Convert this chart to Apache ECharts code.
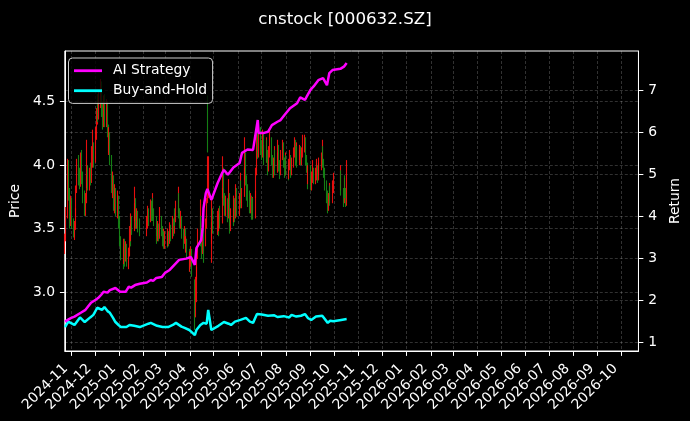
<!DOCTYPE html>
<html>
<head>
<meta charset="utf-8">
<script src="https://cdn.jsdelivr.net/npm/echarts@6/dist/echarts.min.js"></script>
<style>
html,body{margin:0;padding:0;background:#000;}
#main{width:690px;height:421px;}
</style>
</head>
<body>
<div id="main"></div>
<script>
// ---------- DATA ----------
const titleText = 'cnstock [000632.SZ]';
const firstTradingDay = '2024-10-24';
const lastTradingDay = '2025-10-17';
const holidays = ['2025-01-01','2025-01-28','2025-01-29','2025-01-30','2025-01-31','2025-02-03','2025-02-04',
  '2025-04-04','2025-05-01','2025-05-02','2025-05-05','2025-06-02',
  '2025-10-01','2025-10-02','2025-10-03','2025-10-06','2025-10-07','2025-10-08'];

// daily candles [open, close, low, high], one per trading day
const candles = [
  // 2024-10
  [3.33,3.42,3.30,3.46],[3.43,3.63,3.40,3.67],[3.62,3.95,3.58,4.05],[3.97,3.78,3.72,4.04],[3.76,3.58,3.50,3.82],[3.57,3.70,3.52,3.76],
  // 2024-11
  [3.70,3.55,3.50,3.74],[3.54,3.48,3.43,3.58],[3.47,3.52,3.41,3.56],[3.52,3.62,3.49,3.66],[3.62,3.80,3.60,3.84],[3.82,3.95,3.78,4.05],
  [3.96,3.90,3.84,4.08],[3.90,3.86,3.81,3.98],[3.86,3.98,3.83,4.10],[4.00,3.88,3.85,4.12],[3.88,3.75,3.70,3.95],
  [3.74,3.65,3.60,3.80],[3.64,3.72,3.60,3.78],[3.72,3.86,3.70,3.92],[3.87,3.95,3.82,4.20],[3.96,3.84,3.80,4.00],
  [3.83,3.92,3.80,3.98],[3.92,3.88,3.84,4.02],[3.88,4.02,3.86,4.15],[4.03,4.10,3.98,4.28],[4.10,4.05,3.98,4.18],
  // 2024-12
  [4.06,4.25,4.02,4.30],[4.25,4.38,4.20,4.45],[4.38,4.45,4.32,4.52],[4.46,4.40,4.34,4.56],[4.40,4.52,4.36,4.58],
  [4.52,4.60,4.45,4.68],[4.62,4.42,4.38,4.66],[4.42,4.35,4.28,4.50],[4.36,4.48,4.30,4.55],[4.50,4.38,4.30,4.56],
  [4.37,4.46,4.30,4.52],[4.45,4.28,4.22,4.50],[4.27,4.18,4.10,4.32],[4.18,4.22,4.08,4.30],[4.22,4.05,4.00,4.26],
  [4.04,3.82,3.78,4.08],[3.82,3.88,3.74,3.95],[3.88,3.70,3.64,3.92],[3.70,3.78,3.62,3.85],[3.78,3.68,3.60,3.82],
  [3.67,3.72,3.58,3.80],[3.72,3.55,3.50,3.76],
  // 2025-01
  [3.55,3.40,3.36,3.60],[3.40,3.30,3.25,3.44],[3.30,3.25,3.18,3.36],[3.25,3.38,3.22,3.42],[3.38,3.28,3.20,3.42],
  [3.28,3.35,3.24,3.40],[3.35,3.24,3.20,3.38],[3.23,3.30,3.18,3.35],[3.30,3.48,3.28,3.52],[3.48,3.42,3.36,3.54],
  [3.42,3.55,3.40,3.62],[3.55,3.50,3.45,3.60],[3.50,3.62,3.48,3.70],[3.62,3.70,3.56,3.83],[3.70,3.55,3.50,3.74],
  [3.55,3.60,3.50,3.66],[3.60,3.52,3.47,3.64],[3.52,3.48,3.44,3.58],
  // 2025-02
  [3.48,3.55,3.44,3.60],[3.55,3.62,3.50,3.68],[3.62,3.58,3.52,3.66],[3.58,3.68,3.55,3.73],[3.68,3.60,3.56,3.72],
  [3.60,3.70,3.58,3.78],[3.70,3.62,3.56,3.74],[3.62,3.55,3.52,3.66],[3.55,3.48,3.44,3.60],[3.48,3.42,3.38,3.52],
  [3.42,3.50,3.40,3.56],[3.50,3.45,3.40,3.54],[3.45,3.55,3.42,3.67],[3.55,3.48,3.44,3.60],[3.48,3.40,3.36,3.52],
  [3.40,3.45,3.36,3.50],[3.45,3.38,3.34,3.48],[3.38,3.42,3.34,3.48],
  // 2025-03
  [3.42,3.38,3.35,3.46],[3.38,3.45,3.36,3.50],[3.45,3.40,3.36,3.48],[3.40,3.50,3.38,3.55],[3.50,3.44,3.40,3.53],
  [3.44,3.55,3.42,3.60],[3.55,3.48,3.44,3.58],[3.48,3.60,3.46,3.62],[3.60,3.58,3.52,3.66],[3.58,3.68,3.55,3.72],
  [3.68,3.75,3.62,3.83],[3.75,3.62,3.58,3.78],[3.62,3.55,3.50,3.66],[3.55,3.58,3.50,3.64],[3.58,3.45,3.42,3.60],
  [3.45,3.40,3.34,3.50],[3.40,3.48,3.38,3.52],[3.48,3.36,3.32,3.50],[3.36,3.40,3.31,3.44],[3.40,3.30,3.26,3.42],
  [3.30,3.22,3.16,3.34],
  // 2025-04
  [3.22,3.25,3.16,3.32],[3.25,3.30,3.20,3.36],[3.30,3.18,3.12,3.34],[3.02,2.88,2.70,3.10],[2.88,3.05,2.80,3.12],
  [3.00,3.15,2.92,3.20],[3.15,3.30,3.10,3.36],[3.30,3.45,3.26,3.50],[3.46,3.55,3.40,3.73],[3.55,3.42,3.36,3.60],
  [3.42,3.35,3.26,3.46],[3.35,3.48,3.30,3.52],[3.48,3.40,3.23,3.50],[3.40,3.55,3.36,3.58],[3.55,3.70,3.50,3.74],
  [3.72,4.07,3.70,4.07],[4.48,4.15,4.10,4.55],[3.80,3.95,3.74,4.07],[3.30,3.42,3.23,3.55],[3.42,3.60,3.38,3.75],
  [3.60,3.52,3.46,3.66],
  // 2025-05
  [3.52,3.58,3.45,3.64],[3.58,3.50,3.44,3.62],[3.50,3.62,3.48,3.66],[3.62,3.55,3.50,3.68],[3.56,3.78,3.54,3.82],
  [3.78,3.95,3.74,4.07],[3.95,3.72,3.68,3.98],[3.72,3.65,3.60,3.78],[3.65,3.70,3.60,3.76],[3.70,3.60,3.55,3.74],
  [3.60,3.75,3.58,3.89],[3.75,3.55,3.52,3.78],[3.55,3.50,3.46,3.60],[3.50,3.62,3.48,3.66],[3.62,3.58,3.52,3.66],
  [3.58,3.70,3.55,3.76],[3.70,3.60,3.55,3.74],[3.60,3.78,3.58,3.85],[3.78,3.65,3.60,3.82],
  // 2025-06
  [3.65,3.72,3.60,3.78],[3.72,3.85,3.70,3.94],[3.85,3.70,3.66,3.88],[3.70,3.78,3.66,3.82],[3.78,3.92,3.75,3.98],
  [3.92,4.05,3.88,4.22],[4.05,3.88,3.84,4.10],[3.88,3.80,3.72,3.92],[3.80,3.75,3.67,3.85],[3.75,3.68,3.62,3.80],
  [3.68,3.72,3.62,3.78],[3.72,3.62,3.57,3.76],[3.62,3.70,3.58,3.75],[3.70,3.60,3.57,3.74],[3.60,3.75,3.58,3.80],
  [3.76,3.95,3.74,3.98],[3.95,4.20,3.92,4.25],[4.20,4.10,4.05,4.33],[4.10,4.22,4.06,4.28],[4.22,4.15,4.08,4.30],
  // 2025-07
  [4.15,4.10,4.04,4.20],[4.10,4.20,4.06,4.28],[4.20,4.12,4.06,4.26],[4.12,4.05,4.00,4.16],[4.05,4.15,4.02,4.22],
  [4.15,4.08,4.02,4.20],[4.08,3.98,3.92,4.12],[3.98,4.10,3.95,4.15],[4.10,4.18,4.06,4.28],[4.18,4.05,4.00,4.22],
  [4.05,3.95,3.90,4.08],[3.95,4.02,3.90,4.06],[4.02,4.10,3.98,4.15],[4.10,3.98,3.92,4.12],[3.98,4.05,3.94,4.10],
  [4.05,4.12,4.00,4.20],[4.12,4.00,3.95,4.16],[4.00,3.95,3.89,4.04],[3.95,4.08,3.92,4.12],[4.08,4.15,4.04,4.20],
  [4.15,4.02,3.98,4.18],[4.02,3.96,3.90,4.06],[3.96,4.05,3.92,4.10],
  // 2025-08
  [4.05,3.98,3.92,4.08],[3.98,3.92,3.88,4.02],[3.92,4.00,3.89,4.05],[4.00,4.05,3.96,4.12],[4.05,3.95,3.90,4.08],
  [3.95,4.02,3.92,4.06],[4.02,4.10,3.98,4.14],[4.10,4.18,4.06,4.22],[4.18,4.05,4.00,4.20],[4.05,4.12,4.02,4.18],
  [4.12,4.02,3.98,4.15],[4.02,4.08,4.00,4.12],[4.08,4.12,4.04,4.16],[4.12,4.03,4.00,4.15],[4.03,4.10,4.00,4.14],
  [4.10,4.18,4.06,4.24],[4.18,4.20,4.10,4.24],[4.20,4.05,4.00,4.22],[4.05,3.98,3.94,4.08],[3.98,3.90,3.81,4.02],
  [3.90,3.95,3.85,4.00],
  // 2025-09
  [3.95,3.88,3.84,4.00],[3.88,3.82,3.80,3.92],[3.82,3.90,3.80,3.95],[3.90,3.95,3.86,4.04],[3.95,3.88,3.85,3.98],
  [3.88,3.92,3.85,3.98],[3.92,3.98,3.88,4.05],[3.98,3.90,3.86,4.00],[3.90,3.96,3.88,4.02],[3.96,4.02,3.92,4.06],
  [4.02,4.05,3.96,4.10],[4.05,4.12,4.00,4.20],[4.12,4.02,3.98,4.15],[4.02,3.95,3.90,4.05],[3.95,3.85,3.80,3.98],
  [3.85,3.75,3.70,3.88],[3.75,3.68,3.62,3.80],[3.68,3.72,3.64,3.78],[3.72,3.80,3.70,3.86],[3.80,3.72,3.68,3.84],
  [3.72,3.82,3.70,3.88],[3.82,3.86,3.78,3.94],
  // 2025-10
  [3.86,3.90,3.80,4.00],[3.90,3.80,3.76,3.96],[3.76,3.72,3.67,3.82],[3.72,3.85,3.70,3.90],[3.85,3.78,3.74,3.92],
  [3.78,3.72,3.67,3.82],[3.72,3.92,3.68,4.04]
];

const aiDates = ['2024-10-24','2024-10-29','2024-11-01','2024-11-05','2024-11-07','2024-11-13','2024-11-15','2024-11-19','2024-11-26',
  '2024-12-02','2024-12-05','2024-12-09','2024-12-12','2024-12-17','2024-12-20','2024-12-27','2025-01-02','2025-01-09',
  '2025-01-13','2025-01-16','2025-01-21','2025-01-27','2025-02-05','2025-02-10','2025-02-13','2025-02-17','2025-02-24',
  '2025-02-28','2025-03-06','2025-03-12','2025-03-18','2025-03-20','2025-03-27','2025-04-02','2025-04-07','2025-04-09',
  '2025-04-15','2025-04-17','2025-04-18','2025-04-21','2025-04-23','2025-04-24','2025-04-28','2025-05-06','2025-05-12',
  '2025-05-14','2025-05-19','2025-05-26','2025-06-03','2025-06-06','2025-06-13','2025-06-20','2025-06-26','2025-06-27',
  '2025-07-03','2025-07-09','2025-07-14','2025-07-21','2025-07-25','2025-07-30','2025-08-06','2025-08-15','2025-08-19',
  '2025-08-21','2025-08-25','2025-08-27','2025-09-01','2025-09-05','2025-09-11','2025-09-17','2025-09-22','2025-09-25',
  '2025-09-29','2025-09-30','2025-10-09','2025-10-10','2025-10-14','2025-10-16','2025-10-17'];
const aiReturn = [1.50,1.56,1.59,1.62,1.66,1.71,1.70,1.78,1.95,
  2.02,2.06,2.14,2.21,2.19,2.25,2.30,2.21,2.21,
  2.33,2.31,2.37,2.40,2.43,2.49,2.47,2.54,2.56,
  2.66,2.73,2.85,2.97,2.97,3.00,3.04,2.85,3.25,
  3.44,3.75,4.20,4.56,4.66,4.68,4.40,4.80,5.05,
  5.11,5.00,5.17,5.28,5.52,5.60,5.59,6.30,5.99,
  5.99,6.02,6.18,6.26,6.30,6.42,6.58,6.70,6.84,
  6.83,6.78,6.85,7.02,7.10,7.25,7.30,7.13,7.42,
  7.49,7.49,7.52,7.56,7.58,7.60,7.66];

const bhDates = ['2024-10-24','2024-10-28','2024-10-29','2024-11-05','2024-11-12','2024-11-18','2024-11-25','2024-11-29',
  '2024-12-04','2024-12-06','2024-12-10','2024-12-13','2024-12-17','2024-12-20','2024-12-24','2024-12-27','2024-12-31',
  '2025-01-03','2025-01-10','2025-01-14','2025-01-20','2025-01-27','2025-02-07','2025-02-10','2025-02-18','2025-02-25',
  '2025-03-04','2025-03-10','2025-03-14','2025-03-21','2025-03-25','2025-03-31','2025-04-03','2025-04-07','2025-04-09',
  '2025-04-14','2025-04-18','2025-04-22','2025-04-24','2025-04-28','2025-05-07','2025-05-14','2025-05-20','2025-05-23',
  '2025-05-28','2025-06-04','2025-06-11','2025-06-16','2025-06-20','2025-06-25','2025-07-01','2025-07-09','2025-07-17',
  '2025-07-21','2025-07-29','2025-08-05','2025-08-08','2025-08-14','2025-08-20','2025-08-25','2025-08-29','2025-09-02',
  '2025-09-08','2025-09-16','2025-09-18','2025-09-23','2025-09-26','2025-09-30','2025-10-10','2025-10-17'];
const bhReturn = [1.37,1.50,1.52,1.42,1.60,1.49,1.60,1.66,
  1.83,1.83,1.78,1.85,1.75,1.71,1.59,1.49,1.42,
  1.37,1.37,1.42,1.40,1.37,1.45,1.47,1.40,1.37,
  1.37,1.42,1.47,1.38,1.35,1.30,1.25,1.18,1.30,
  1.42,1.47,1.45,1.78,1.30,1.40,1.49,1.45,1.42,
  1.50,1.54,1.59,1.50,1.47,1.68,1.67,1.64,1.65,
  1.61,1.63,1.60,1.66,1.62,1.64,1.68,1.58,1.54,
  1.62,1.64,1.60,1.47,1.52,1.51,1.54,1.56];

const monthTicks = ['2024-11','2024-12','2025-01','2025-02','2025-03','2025-04','2025-05','2025-06','2025-07','2025-08',
  '2025-09','2025-10','2025-11','2025-12','2026-01','2026-02','2026-03','2026-04','2026-05','2026-06','2026-07','2026-08',
  '2026-09','2026-10'];
const priceTicks = [3.0, 3.5, 4.0, 4.5];
const returnTicks = [1, 2, 3, 4, 5, 6, 7];
const xRange = ['2024-10-23', '2026-10-23'];
const priceRange = [2.535, 4.90];
const returnRange = [0.80, 7.945];

// ---------- BUILD ----------
function pad(n){return (n<10?'0':'')+n;}
function fmtDay(d){return d.getFullYear()+'-'+pad(d.getMonth()+1)+'-'+pad(d.getDate());}
function parseDay(s){const p=s.split('-').map(Number);return new Date(p[0],p[1]-1,p[2]||1);}
function ts(s){return parseDay(s).getTime();}

const tradingDays = [];
(function(){
  const d = parseDay(firstTradingDay), end = parseDay(lastTradingDay);
  while (d <= end) {
    const wd = d.getDay(), s = fmtDay(d);
    if (wd !== 0 && wd !== 6 && holidays.indexOf(s) < 0) tradingDays.push(s);
    d.setDate(d.getDate()+1);
  }
})();

const candleData = candles.map((c,i)=>[ts(tradingDays[i]), c[0], c[1], c[2], c[3]]);
const tickVals = monthTicks.map(ts);
const DAY = 86400000;
const xMin = ts(xRange[0]) + DAY*0.67;
const xMax = ts(xRange[1]);

const FONT = 'DejaVu Sans';
const FS = 13.9;
const gridLine = {show:true, lineStyle:{color:'rgba(255,255,255,0.28)', width:0.7, type:[3,2]}};

const option = {
  backgroundColor:'#000',
  animation:false,
  textStyle:{fontFamily:FONT},
  title:{text:titleText, left:'center', top:11, padding:0,
    textStyle:{color:'#fff', fontSize:16.7, fontWeight:'normal', fontFamily:FONT}},
  legend:{
    data:['AI Strategy','Buy-and-Hold'],
    orient:'vertical', left:68.5, top:58,
    padding:[5.7,5.5,5.7,5.5],
    itemWidth:28, itemHeight:2.8, itemGap:6, icon:'rect',
    backgroundColor:'rgba(0,0,0,0.8)', borderColor:'#cccccc', borderWidth:1, borderRadius:4,
    textStyle:{color:'#fff', fontSize:FS, fontFamily:FONT, lineHeight:14, padding:[0,0,0,6]}
  },
  grid:{left:61.5, right:47.5, top:51, bottom:70, show:true, borderColor:'#fff', borderWidth:1},
  xAxis:{
    type:'value', min:xMin, max:xMax, scale:true,
    axisLine:{show:true, onZero:false, lineStyle:{color:'#fff', width:1}},
    axisTick:{show:true, customValues:tickVals, length:4.9, lineStyle:{color:'#fff', width:1}},
    axisLabel:{customValues:tickVals, rotate:45, color:'#fff', fontSize:FS, fontFamily:FONT, margin:9.8,
      padding:[0,8,0,0], hideOverlap:false,
      formatter:function(v){const d=new Date(v);return d.getFullYear()+'-'+pad(d.getMonth()+1);}},
    splitLine:gridLine
  },
  yAxis:[
    {type:'value', position:'left', min:priceRange[0], max:priceRange[1],
     name:'Price', nameLocation:'middle', nameGap:36, nameRotate:90,
     nameTextStyle:{color:'#fff', fontSize:FS, fontFamily:FONT},
     axisLine:{show:true, onZero:false, lineStyle:{color:'#fff', width:1}},
     axisTick:{show:true, customValues:priceTicks, length:4.9, lineStyle:{color:'#fff', width:1}},
     axisLabel:{customValues:priceTicks, color:'#fff', fontSize:FS, fontFamily:FONT, margin:9.8,
       formatter:function(v){return v.toFixed(1);}},
     splitLine:gridLine},
    {type:'value', position:'right', min:returnRange[0], max:returnRange[1],
     name:'Return', nameLocation:'middle', nameGap:21, nameRotate:90,
     nameTextStyle:{color:'#fff', fontSize:FS, fontFamily:FONT},
     axisLine:{show:true, onZero:false, lineStyle:{color:'#fff', width:1}},
     axisTick:{show:true, customValues:returnTicks, length:4.9, lineStyle:{color:'#fff', width:1}},
     axisLabel:{customValues:returnTicks, color:'#fff', fontSize:FS, fontFamily:FONT, margin:9.8,
       formatter:function(v){return String(Math.round(v));}},
     splitLine:gridLine}
  ],
  series:[
    {type:'candlestick', name:'Price', xAxisIndex:0, yAxisIndex:0,
     dimensions:['date','open','close','lowest','highest'],
     encode:{x:'date', y:['open','close','lowest','highest']},
     data:candleData, barWidth:1.3,
     itemStyle:{color:'#ff1010', color0:'#168c16', borderColor:'#ff1010', borderColor0:'#168c16', borderWidth:1.1, opacity:0.9},
     z:2},
    {type:'line', name:'AI Strategy', xAxisIndex:0, yAxisIndex:1,
     data:aiDates.map((d,i)=>[ts(d), aiReturn[i]]), showSymbol:false, symbol:'none',
     lineStyle:{color:'#ff00ff', width:2.5}, itemStyle:{color:'#ff00ff'}, z:4},
    {type:'line', name:'Buy-and-Hold', xAxisIndex:0, yAxisIndex:1,
     data:bhDates.map((d,i)=>[ts(d), bhReturn[i]]), showSymbol:false, symbol:'none',
     lineStyle:{color:'#00ffff', width:2.5}, itemStyle:{color:'#00ffff'}, z:3}
  ]
};

const chart = echarts.init(document.getElementById('main'), null, {renderer:'canvas'});
chart.setOption(option);
</script>
</body>
</html>
